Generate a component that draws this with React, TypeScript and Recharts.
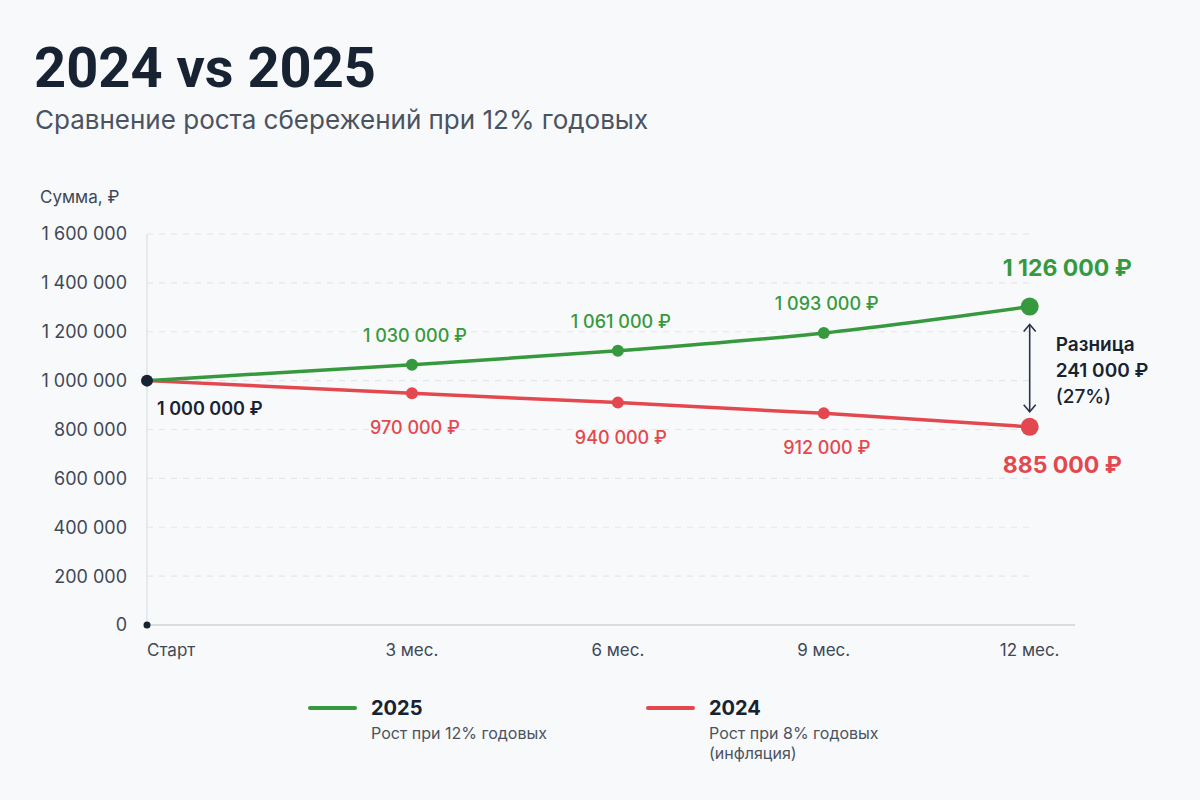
import { LineChart, Line, XAxis, YAxis, ReferenceLine, ReferenceDot } from 'recharts';

// positions on the month axis (start point sits left of the 3-month step)
const xPos = [-0.86, 3, 6, 9, 12];
const xLabels = ['Старт', '3 мес.', '6 мес.', '9 мес.', '12 мес.'];

// plotted values as drawn
const series2025 = [1000000, 1065000, 1122000, 1195000, 1303000];
const series2024 = [1000000, 948000, 910000, 866000, 811000];

// point captions as printed
const labels2025 = ['1 000 000 ₽', '1 030 000 ₽', '1 061 000 ₽', '1 093 000 ₽', '1 126 000 ₽'];
const labels2024 = ['1 000 000 ₽', '970 000 ₽', '940 000 ₽', '912 000 ₽', '885 000 ₽'];

const yTicks = [0, 200000, 400000, 600000, 800000, 1000000, 1200000, 1400000, 1600000];

const diffLines = ['Разница', '241 000 ₽', '(27%)'];

const GREEN = '#36993d';
const RED = '#e4484f';
const DARK = '#172232';
const GRAY = '#3f4856';

const chartData = xPos.map((x, i) => ({
  x,
  g: series2025[i],
  r: series2024[i],
}));

const fmt = (v: number) => String(v).replace(/\B(?=(\d{3})+(?!\d))/g, ' ');

const GreenDot = (p: any) => {
  const { cx, cy, index } = p;
  if (index === 0) {
    return (
      <g key={`g-${index}`}>
        <circle cx={cx} cy={cy} r={6} fill={DARK} />
        <text x={cx + 10} y={cy + 34} fontSize={18} fontWeight={600} fill={DARK}>
          {labels2025[0]}
        </text>
      </g>
    );
  }
  const last = index === series2025.length - 1;
  return (
    <g key={`g-${index}`}>
      <circle cx={cx} cy={cy} r={last ? 9 : 6} fill={GREEN} />
      {last ? (
        <text x={cx - 27} y={cy - 31} fontSize={23} fontWeight={700} fill={GREEN}>
          {labels2025[index]}
        </text>
      ) : (
        <text x={cx + 3} y={cy - 23} fontSize={18} fontWeight={500} fill={GREEN} textAnchor="middle">
          {labels2025[index]}
        </text>
      )}
    </g>
  );
};

const RedDot = (p: any) => {
  const { cx, cy, index } = p;
  if (index === 0) return <g key={`r-${index}`} />;
  const last = index === series2024.length - 1;
  return (
    <g key={`r-${index}`}>
      <circle cx={cx} cy={cy} r={last ? 9 : 6} fill={RED} />
      {last ? (
        <text x={cx - 27} y={cy + 46} fontSize={23} fontWeight={700} fill={RED}>
          {labels2024[index]}
        </text>
      ) : (
        <text x={cx + 3} y={cy + 41} fontSize={18} fontWeight={500} fill={RED} textAnchor="middle">
          {labels2024[index]}
        </text>
      )}
    </g>
  );
};

const DiffArrow = (p: any) => {
  const { x1, y1, y2 } = p;
  const top = Math.min(y1, y2) + 18;
  const bot = Math.max(y1, y2) - 15;
  const mid = (top + bot) / 2;
  return (
    <g>
      <line x1={x1} y1={top} x2={x1} y2={bot} stroke="#2a3545" strokeWidth={1.6} />
      <polyline points={`${x1 - 6},${top + 7} ${x1},${top} ${x1 + 6},${top + 7}`} fill="none" stroke="#2a3545" strokeWidth={1.6} />
      <polyline points={`${x1 - 6},${bot - 7} ${x1},${bot} ${x1 + 6},${bot - 7}`} fill="none" stroke="#2a3545" strokeWidth={1.6} />
      {diffLines.map((t, i) => (
        <text key={t} x={x1 + 26} y={mid - 24 + i * 26 + 7} fontSize={19} fontWeight={i === 2 ? 500 : 600} fill={DARK}>
          {t}
        </text>
      ))}
    </g>
  );
};

const XTick = (p: any) => {
  const { x, y, payload, index } = p;
  const i = index ?? xPos.indexOf(payload.value);
  return (
    <text x={x} y={y + 12} fontSize={17} fill={GRAY} textAnchor={i === 0 ? 'start' : 'middle'}>
      {xLabels[i]}
    </text>
  );
};

const LegendItem = ({ left, color, title, lines }: { left: number; color: string; title: string; lines: string[] }) => (
  <>
    <div style={{ position: 'absolute', left, top: 706, width: 49, height: 4, borderRadius: 2, background: color }} />
    <div style={{ position: 'absolute', left: left + 63, top: 698, fontSize: 20, lineHeight: '20px', fontWeight: 700, color: DARK }}>
      {title}
    </div>
    {lines.map((l, i) => (
      <div key={l} style={{ position: 'absolute', left: left + 63, top: 725 + i * 20, fontSize: 16, lineHeight: '16px', color: '#4a5361' }}>
        {l}
      </div>
    ))}
  </>
);

export default function App() {
  return (
    <div
      style={{
        position: 'absolute',
        left: 0,
        top: 0,
        width: 1200,
        height: 800,
        background: '#f8f9fa',
        fontFamily: 'Inter, "Noto Sans", sans-serif',
        overflow: 'hidden',
      }}
    >
      <div style={{ position: 'absolute', left: 34, top: 40, fontFamily: 'Roboto, Inter, sans-serif', fontSize: 56, lineHeight: '56px', fontWeight: 700, color: DARK }}>
        2024 vs 2025
      </div>
      <div style={{ position: 'absolute', left: 35, top: 107, fontSize: 26, lineHeight: '26px', color: '#4a5361' }}>
        Сравнение роста сбережений при 12% годовых
      </div>
      <div style={{ position: 'absolute', left: 40, top: 189, fontSize: 17, lineHeight: '17px', color: GRAY }}>
        Сумма, ₽
      </div>

      <div style={{ position: 'absolute', left: 0, top: 0 }}>
        <LineChart
          width={1200}
          height={800}
          data={chartData}
          margin={{ top: 234, right: 125, bottom: 135, left: 47 }}
          style={{ fontFamily: 'Inter, "Noto Sans", sans-serif', overflow: 'visible' }}
        >
          <XAxis
            dataKey="x"
            type="number"
            domain={[-0.86, 12.66]}
            ticks={xPos}
            height={40}
            tickSize={0}
            tickMargin={19}
            tickLine={false}
            axisLine={{ stroke: '#cdd2d9', strokeWidth: 1.5 }}
            tick={<XTick />}
            interval={0}
          />
          <YAxis
            type="number"
            domain={[0, 1600000]}
            ticks={yTicks}
            width={100}
            tickSize={0}
            tickMargin={20}
            tickLine={false}
            axisLine={{ stroke: '#e2e5e9', strokeWidth: 1.5 }}
            tick={{ fill: GRAY, fontSize: 18 }}
            tickFormatter={fmt}
          />
          {yTicks.slice(1).map(t => (
            <ReferenceLine
              key={t}
              segment={[{ x: xPos[0], y: t }, { x: 12, y: t }]}
              stroke="#e3e6ea"
              strokeDasharray="6 6"
              strokeWidth={1.2}
            />
          ))}
          <ReferenceLine
            segment={[{ x: 12, y: series2025[4] }, { x: 12, y: series2024[4] }]}
            shape={<DiffArrow />}
          />
          <ReferenceDot x={xPos[0]} y={0} r={3.5} fill={DARK} stroke="none" ifOverflow="visible" />
          <Line
            type="monotone"
            dataKey="r"
            stroke={RED}
            strokeWidth={3.5}
            dot={RedDot}
            activeDot={false}
            isAnimationActive={false}
          />
          <Line
            type="monotone"
            dataKey="g"
            stroke={GREEN}
            strokeWidth={3.5}
            dot={GreenDot}
            activeDot={false}
            isAnimationActive={false}
          />
        </LineChart>
      </div>

      <LegendItem left={308} color={GREEN} title="2025" lines={['Рост при 12% годовых']} />
      <LegendItem left={646} color={RED} title="2024" lines={['Рост при 8% годовых', '(инфляция)']} />
    </div>
  );
}
